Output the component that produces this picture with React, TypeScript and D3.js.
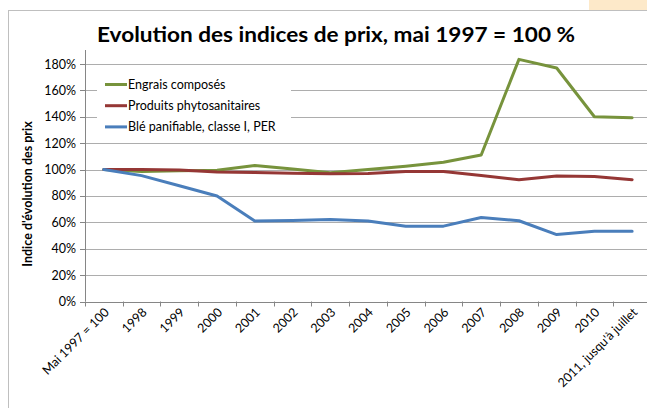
import React from "react";
import * as d3 from "d3";

const categories = [
  "Mai 1997 = 100", "1998", "1999", "2000", "2001", "2002", "2003", "2004",
  "2005", "2006", "2007", "2008", "2009", "2010", "2011, jusqu'à juillet",
];
const engrais = [100, 98.5, 99, 99.5, 103, 100.5, 97.5, 100, 102.5, 105.6, 111, 183.5, 177, 140, 139.3];
const phyto = [100, 100, 99.7, 98.2, 97.8, 97.2, 96.8, 97, 98.6, 98.5, 95.5, 92.3, 95.2, 94.8, 92.3];
const ble = [100, 95.4, 87.7, 80, 61, 61.4, 62.2, 61, 57.1, 57.1, 63.7, 61.2, 50.7, 53.3, 53.3];
const yTicks = [0, 20, 40, 60, 80, 100, 120, 140, 160, 180];
const seriesNames = ["Engrais composés", "Produits phytosanitaires", "Blé panifiable, classe I, PER"];
const seriesColors = ["#77933C", "#953735", "#4A7EBB"];

const FONT = "Lato, 'Open Sans', sans-serif";

export default function App() {
  const W = 647, H = 408;
  const left = 85, right = 651, top = 50, bottom = 301.5;
  const x = d3.scaleBand<string>().domain(categories).range([left, right]);
  const y = d3.scaleLinear().domain([0, 180]).range([bottom, 64]);
  const series = [engrais, phyto, ble];
  const line = d3.line<number>()
    .x((_, i) => (x(categories[i]) as number) + x.bandwidth() / 2)
    .y((d) => y(d));
  const ticksX = d3.range(categories.length + 1).map((i) => left + i * x.bandwidth());

  return (
    <svg width={W} height={H} style={{ position: "absolute", left: 0, top: 0, background: "#fff" }}>
      <rect x={589} y={0} width={58} height={10} fill="#FDE9C9" />
      <rect x={8.5} y={10.5} width={700} height={500} fill="#fff" stroke="#BFBFBF" strokeWidth={1} />
      <text x={336} y={41.5} textAnchor="middle" fontFamily={FONT} fontWeight="bold" fontSize={21}
        textLength={478} lengthAdjust="spacingAndGlyphs" fill="#000">
        Evolution des indices de prix, mai 1997 = 100 %
      </text>
      {yTicks.map((t) => (
        <g key={t}>
          {t > 0 && <line x1={left} x2={W} y1={Math.round(y(t)) + 0.5} y2={Math.round(y(t)) + 0.5} stroke="#ADADAD" strokeWidth={1} />}
          <line x1={80} x2={left} y1={Math.round(y(t)) + 0.5} y2={Math.round(y(t)) + 0.5} stroke="#868686" />
          <text x={76} y={y(t) + 4.5} textAnchor="end" fontFamily={FONT} fontSize={12.5} fill="#000">{t}%</text>
        </g>
      ))}
      <line x1={left + 0.5} x2={left + 0.5} y1={top} y2={bottom} stroke="#868686" />
      <line x1={left} x2={W} y1={Math.round(bottom) + 0.5} y2={Math.round(bottom) + 0.5} stroke="#868686" />
      {ticksX.map((tx, i) => (
        <line key={i} x1={Math.round(tx) + 0.5} x2={Math.round(tx) + 0.5} y1={bottom} y2={bottom + 5} stroke="#868686" />
      ))}
      {categories.map((c) => {
        const cx = (x(c) as number) + x.bandwidth() / 2 + 6;
        const cy = 313;
        return (
          <text key={c} x={cx} y={cy} textAnchor="end" fontFamily={FONT} fontSize={12.5} fill="#000"
            transform={`rotate(-45 ${cx} ${cy})`}>{c}</text>
        );
      })}
      <text transform="translate(32 194) rotate(-90)" textAnchor="middle" fontFamily={FONT} fontWeight="bold"
        fontSize={12.5} fill="#000">Indice d'évolution des prix</text>
      <rect x={97} y={71} width={194} height={66} fill="#fff" />
      {seriesNames.map((n, i) => {
        const ly = 84.5 + i * 21.2;
        return (
          <g key={n}>
            <line x1={105} x2={127} y1={ly} y2={ly} stroke={seriesColors[i]} strokeWidth={3} />
            <text x={128} y={ly + 4.5} fontFamily={FONT} fontSize={12.5} fill="#000">{n}</text>
          </g>
        );
      })}
      {series.map((s, i) => (
        <path key={i} d={line(s) || ""} fill="none" stroke={seriesColors[i]} strokeWidth={3}
          strokeLinejoin="round" strokeLinecap="round" />
      ))}
    </svg>
  );
}
